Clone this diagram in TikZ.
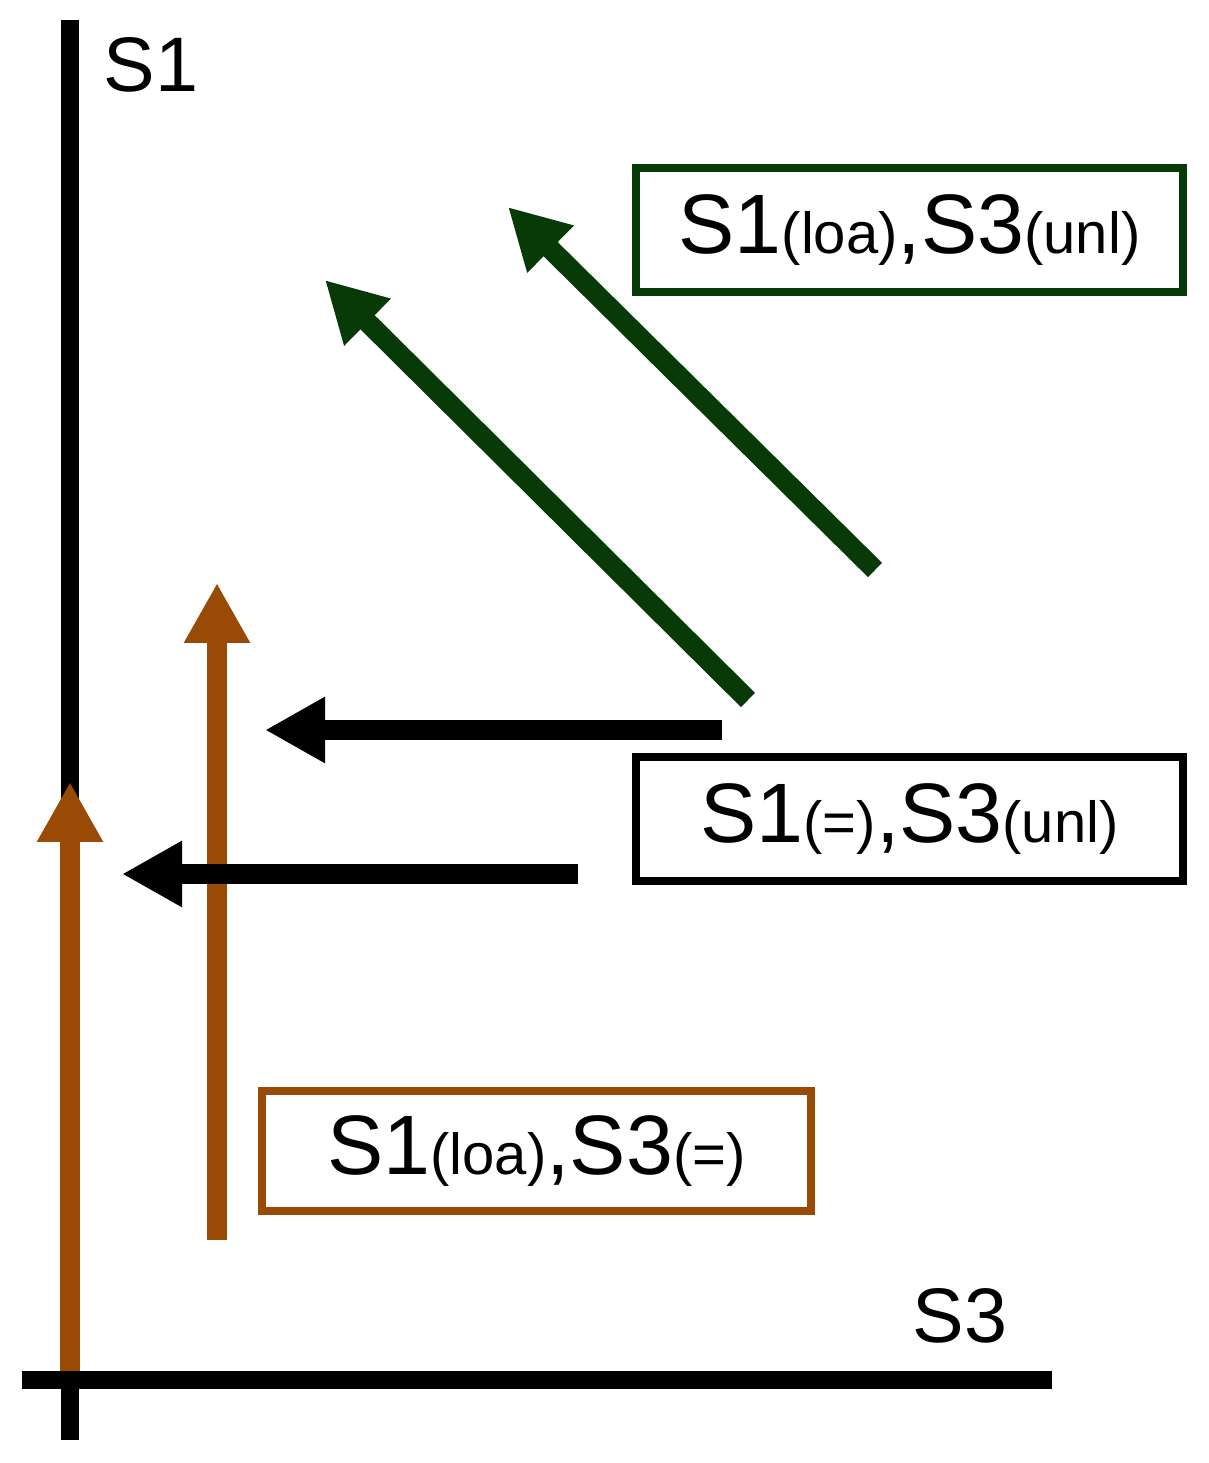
\documentclass[tikz,border=0pt]{standalone}
\usepackage{fontspec}
\setmainfont{Liberation Sans}
\usetikzlibrary{arrows.meta}

\definecolor{loabrown}{RGB}{153,74,4}
\definecolor{unlgreen}{RGB}{8,58,8}

\newcommand{\smallpart}[1]{{\fontsize{16.5pt}{16.5pt}\selectfont #1}}

\tikzset{
	axis/.style={line width=5.1pt},
	move/.style={line width=5.7pt, -{Triangle[length=0.6cm, width=0.62cm]}},
	statebox/.style={draw, line width=2.3pt, fill=white, minimum width=5.47cm, minimum height=1.24cm, inner sep=0pt, font=\fontsize{24pt}{24pt}\selectfont},
	axislabel/.style={anchor=base west, inner sep=0pt, font=\fontsize{22pt}{22pt}\selectfont}
}

\begin{document}
\begin{tikzpicture}
		\useasboundingbox (0,0) rectangle (12.08,14.63);
		
		%definition of origin and axis ends
		\coordinate (O) at (0.70,0.83);
		\coordinate (S1 bottom) at (0.70,0.23);
		\coordinate (S1 top) at (0.70,14.43);
		\coordinate (S3 left) at (0.22,0.83);
		\coordinate (S3 right) at (10.52,0.83);
		
		%start and end points of the moves
		\coordinate (brown1 end) at (0.70,6.81);
		\coordinate (brown2 start) at (2.17,2.23);
		\coordinate (brown2 end) at (2.17,8.80);
		\coordinate (black1 start) at (7.22,7.33);
		\coordinate (black1 end) at (2.65,7.33);
		\coordinate (black2 start) at (5.78,5.89);
		\coordinate (black2 end) at (1.22,5.89);
		\coordinate (green1 start) at (7.48,7.63);
		\coordinate (green1 end) at (3.25,11.83);
		\coordinate (green2 start) at (8.75,8.93);
		\coordinate (green2 end) at (5.08,12.56);
		
		%axes
		\draw [axis] (S1 bottom) -- (S1 top);
		\node [axislabel] (S1 label) at (1.03,13.71) {S1};
		\node [axislabel] (S3 label) at (9.12,1.20) {S3};
		
		%loading S1
		\draw [move, loabrown] (O) -- (brown1 end);
		\draw [move, loabrown] (brown2 start) -- (brown2 end);
		\draw [axis] (S3 left) -- (S3 right);
		
		%unloading S3
		\draw [move] (black1 start) -- (black1 end);
		\draw [move] (black2 start) -- (black2 end);
		
		%loading S1, unloading S3
		\draw [move, unlgreen] (green1 start) -- (green1 end);
		\draw [move, unlgreen] (green2 start) -- (green2 end);
		
		%boxes
		\node [statebox, draw=unlgreen] (loa unl) at (9.095,12.33) {S1\smallpart{(loa)},S3\smallpart{(unl)}};
		\node [statebox] (eq unl) at (9.095,6.44) {S1\smallpart{(=)},S3\smallpart{(unl)}};
		\node [statebox, draw=loabrown, minimum width=5.49cm, minimum height=1.20cm] (loa eq) at (5.365,3.12) {S1\smallpart{(loa)},S3\smallpart{(=)}};
	\end{tikzpicture}
\end{document}
